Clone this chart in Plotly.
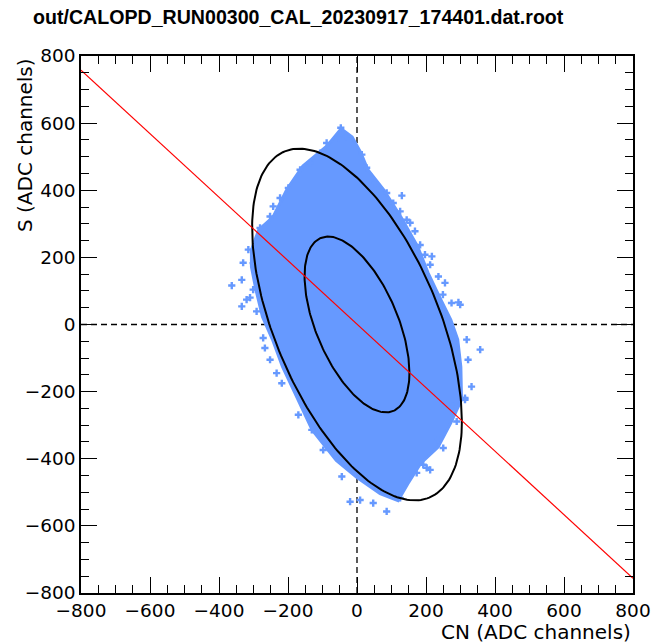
import numpy as np
import plotly.graph_objects as go

# ---- data ---------------------------------------------------------------
# Outline of the dense core of the CN vs S event cloud (ADC channels)
cloud_x = [-46, -87, -157, -203, -243, -285, -306, -306, -293, -274, -245, -216,
           -182, -130, -60, 0, 67, 119, 147, 186, 235, 272, 303, 301, 292, 272,
           243, 206, 176, 127, 77, 31, 11, -14]
cloud_y = [583, 532, 472, 403, 321, 282, 222, 172, 104, 23, -45, -126,
           -200, -314, -405, -456, -504, -525, -475, -412, -365, -293, -224, -126,
           -45, 14, 74, 154, 232, 321, 402, 462, 512, 559]

# Sparse events around the core
edge_x = [-47, -32, -54, -88, -107, -136, -165, -199, -223, -243, -252, -281,
          -315, -301, -334, -330, -363, -301, -320, -291, -334, -310,
          -272, -267, -252, -233, -218, -170, -131, -98, -44, -20, 9, 47, 86,
          125, 192, 212, 250, 278, 313,
          14, 28, 52, 86, 105, 130, 125, 144, 154, 168, 183, 197, 212, 217,
          236, 255, 249, 274, 294, 299, 318, 357, 322, 332, 313, 289, 235,
          202, 173]
edge_y = [586, 560, 556, 541, 511, 481, 461, 407, 377, 352, 322, 288,
          223, 183, 133, 184, 116, 104, 74, 39, 54, 80,
          -40, -70, -105, -145, -175, -269, -314, -374, -453, -528, -523, -532, -557,
          -517, -418, -433, -368, -244, -224,
          506, 467, 422, 392, 362, 384, 337, 312, 303, 278, 237, 208, 178, 203,
          143, 124, 89, 64, 66, 59, -45, -75, -105, -185, -219, -289, -343,
          -427, -442]

# Linear fit S = p0 + p1*CN, drawn across the full CN range
fit_x = [-800, 800]
fit_y = [758, -756]

# Gaussian summary of the cloud: means, widths, correlation, contour levels
mean_cn, mean_s = 0.0, 0.0
sigma_cn, sigma_s = 152.0, 262.0
rho = -0.55
sigma_levels = [1, 2]

x_ticks = [-800, -600, -400, -200, 0, 200, 400, 600, 800]
y_ticks = [-800, -600, -400, -200, 0, 200, 400, 600, 800]

title_text = "out/CALOPD_RUN00300_CAL_20230917_174401.dat.root"
x_title = "CN (ADC channels)"
y_title = "S (ADC channels)"

# ---- figure -------------------------------------------------------------
BLUE = "rgb(102,153,255)"
FONT = "DejaVu Sans, Liberation Sans, Arial, sans-serif"
TITLE_FONT = "Liberation Sans, Arial, Helvetica, sans-serif"

fig = go.Figure()

# dense core
fig.add_trace(go.Scatter(
    x=cloud_x + cloud_x[:1], y=cloud_y + cloud_y[:1],
    mode="lines", fill="toself", fillcolor=BLUE,
    line=dict(color=BLUE, width=3), hoverinfo="skip", showlegend=False))

# individual outlying events
fig.add_trace(go.Scatter(
    x=edge_x, y=edge_y, mode="markers",
    marker=dict(symbol="cross", size=6, color=BLUE, line=dict(width=0)),
    showlegend=False))

# covariance contours
cov = np.array([[sigma_cn ** 2, rho * sigma_cn * sigma_s],
                [rho * sigma_cn * sigma_s, sigma_s ** 2]])
chol = np.linalg.cholesky(cov)
t = np.linspace(0, 2 * np.pi, 241)
unit = np.vstack([np.cos(t), np.sin(t)])
for k in sigma_levels:
    pts = k * chol @ unit
    fig.add_trace(go.Scatter(
        x=mean_cn + pts[0], y=mean_s + pts[1], mode="lines",
        line=dict(color="black", width=2), showlegend=False, hoverinfo="skip"))

# fitted line
fig.add_trace(go.Scatter(
    x=fit_x, y=fit_y, mode="lines",
    line=dict(color="red", width=1.2), showlegend=False))

# zero reference lines
for shp in (dict(x0=0, x1=0, y0=-800, y1=800), dict(x0=-800, x1=800, y0=0, y1=0)):
    fig.add_shape(type="line", xref="x", yref="y", layer="below",
                  line=dict(color="black", width=1.3, dash="6px,4px"), **shp)

axis_common = dict(
    range=[-800, 800], showgrid=False, zeroline=False,
    showline=True, linecolor="black", linewidth=1.5, mirror="ticks",
    ticks="inside", ticklen=16, tickwidth=1.3, tickcolor="black",
    tickfont=dict(family=FONT, size=18.5, color="black"),
    minor=dict(ticks="inside", ticklen=8, tickwidth=1.3, tickcolor="black",
               dtick=50, showgrid=False),
)
fig.update_xaxes(tickvals=x_ticks, **axis_common)
fig.update_yaxes(tickvals=y_ticks, **axis_common)

fig.update_layout(
    width=656, height=643,
    margin=dict(l=81, r=23, t=56, b=50, autoexpand=False),
    plot_bgcolor="white", paper_bgcolor="white",
    font=dict(family=FONT, color="black"),
    title=dict(text="<b>" + title_text + "</b>", x=33 / 656, xanchor="left",
               xref="container", y=1 - 17 / 643, yanchor="middle", yref="container",
               font=dict(family=TITLE_FONT, size=19.6, color="black")),
    annotations=[
        dict(text=x_title, xref="paper", yref="paper", x=1, y=-0.072,
             xanchor="right", yanchor="middle", showarrow=False,
             font=dict(family=FONT, size=20, color="black")),
        dict(text=y_title, xref="paper", yref="paper", x=-0.1014, y=1.0,
             xanchor="center", yanchor="top", textangle=-90, showarrow=False,
             font=dict(family=FONT, size=20, color="black")),
    ],
)

fig.write_html("out.html")
